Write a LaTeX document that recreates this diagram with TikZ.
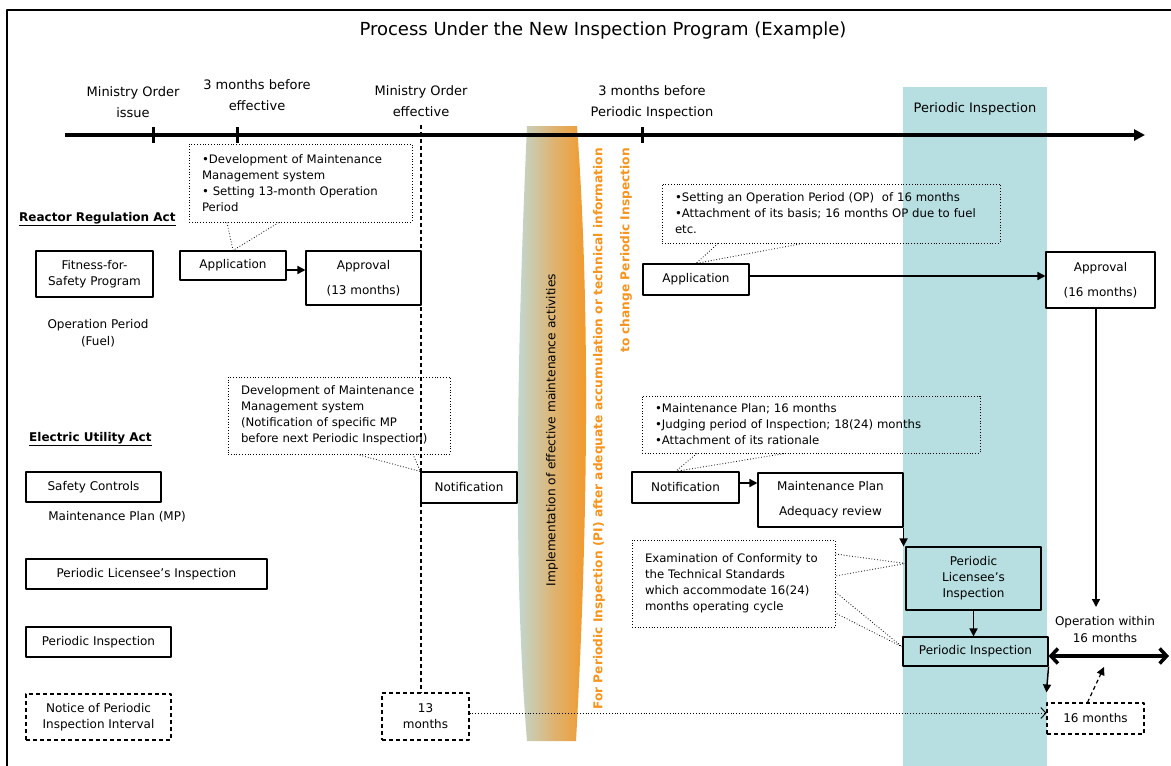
\documentclass[tikz,border=0pt]{standalone}
\usepackage{fontspec}
\setmainfont{DejaVu Sans}
\usetikzlibrary{arrows.meta}
\definecolor{picyan}{RGB}{183,223,226}
\definecolor{piorange}{RGB}{247,148,29}
\definecolor{bandgrey}{RGB}{188,221,224}
\begin{document}
\begin{tikzpicture}[x=1pt,y=-1pt,line join=round,
  box/.style={draw,line width=1.1pt,fill=white,align=center,inner sep=0pt,font=\fontsize{12}{16}\selectfont},
  dbox/.style={box,dash pattern=on 4pt off 3pt},
  pibox/.style={box,fill=picyan},
  callout/.style={draw,dotted,line width=0.8pt,align=left,inner xsep=13pt,inner ysep=0pt,font=\fontsize{11.7}{16}\selectfont},
  callptr/.style={dotted,line width=0.8pt},
  arr/.style={-{Triangle[length=8pt,width=8pt]},line width=1.5pt},
  lbl/.style={align=center,inner sep=0pt,font=\fontsize{13}{21}\selectfont},
  note/.style={align=center,inner sep=0pt,font=\fontsize{12}{17}\selectfont},
  act/.style={anchor=west,inner sep=0pt,font=\bfseries\fontsize{12}{14}\selectfont},
  bandtxt/.style={rotate=90,inner sep=0pt,font=\fontsize{12.2}{14}\selectfont}]

\useasboundingbox (0,0) rectangle (1171,766);

% frame and title
\draw[line width=1.3pt] (7,766) -- (7,10) -- (1171,10);
\node[font=\fontsize{18}{20}\selectfont] (title) at (603,31) {Process Under the New Inspection Program (Example)};

% periodic inspection period
\fill[picyan] (903,87) rectangle (1047,766);
\node[font=\fontsize{13}{15}\selectfont] (pilbl) at (975,109) {Periodic Inspection};

% maintenance band
\shade[left color=bandgrey,right color=piorange,middle color=piorange!55!bandgrey] (527,126) .. controls (518,330) and (512,560) .. (527,741)
  -- (576,741) .. controls (586,560) and (592,330) .. (577,126) -- cycle;
\node[bandtxt] (impl) at (552,430) {Implementation of effective maintenance activities};
\node[bandtxt,anchor=east,text=piorange,font=\bfseries\fontsize{12.2}{14}\selectfont] (forpi) at (599,148)
  {For Periodic Inspection (PI) after adequate accumulation or technical information};
\node[bandtxt,anchor=east,text=piorange,font=\bfseries\fontsize{12.2}{14}\selectfont] (tochg) at (626,148)
  {to change Periodic Inspection};

% time line
\coordinate (tl0) at (65,135);
\coordinate (tl1) at (1145,135);
\draw[line width=3.5pt,-{Triangle[length=11pt,width=11pt]}] (tl0) -- (tl1);
\foreach \x in {153,237,642}
  \draw[line width=3pt] (\x,127) -- (\x,143);
\node[lbl] (moissue) at (133,102) {Ministry Order\\issue};
\node[lbl] (mo3m) at (257,95) {3 months before\\effective};
\node[lbl] (moeffl) at (421,101) {Ministry Order\\effective};
\node[lbl] (pi3m) at (652,102) {3 months before\\Periodic Inspection};

% reactor regulation act
\node[act] (rra) at (19,219) {\underline{Reactor Regulation Act}};
\node[box,minimum width=117pt,minimum height=46pt] (ffs) at (94.5,274) {Fitness-for-\\Safety Program};
\node[note] (opfuel) at (98,333) {Operation Period\\(Fuel)};
\node[box,minimum width=106pt,minimum height=29pt] (app1) at (233,265.5) {Application};
\node[box,minimum width=115pt,minimum height=54pt] (appr1) at (363.5,278) {Approval\\[9pt](13 months)};
\node[callout,text width=197pt,minimum height=78pt] (callA) at (300.5,183)
  {\textbullet Development of Maintenance\\Management system\\\textbullet{} Setting 13-month Operation\\Period};
\draw[callptr] ([xshift=-73.5pt]callA.south) -- (app1.north) -- ([xshift=-21.5pt]callA.south);
\draw[arr] ([yshift=-4.5pt]app1.east) -- ([yshift=-4.5pt]app1.east -| appr1.west);

% electric utility act
\node[act] (eua) at (29,439) {\underline{Electric Utility Act}};
\node[box,minimum width=135pt,minimum height=30pt] (sc) at (93.5,487) {Safety Controls};
\node[note] (mpnote) at (117,517) {Maintenance Plan (MP)};
\node[box,minimum width=241pt,minimum height=30pt] (pliA) at (146.5,574) {Periodic Licensee’s Inspection};
\node[box,minimum width=145pt,minimum height=30pt] (piA) at (98.5,642) {Periodic Inspection};
\node[dbox,minimum width=145pt,minimum height=46pt] (notice) at (98.5,717) {Notice of Periodic\\Inspection Interval};

\node[box,minimum width=96pt,minimum height=31pt] (notifA) at (469,487.5) {Notification};
\node[dbox,minimum width=87pt,minimum height=47pt] (m13) at (425.5,716.5) {13\\months};
\node[callout,text width=196pt,minimum height=77pt] (callB) at (339,415.5)
  {Development of Maintenance\\Management system\\(Notification of specific MP\\before next Periodic Inspection)};
\draw[callptr] ([xshift=18pt]callB.south) -- (notifA.north west) -- ([xshift=74pt]callB.south);

% ministry order effective
\coordinate (moeff) at (421,125);
\draw[line width=1.1pt,dash pattern=on 4pt off 3pt] (moeff) -- (moeff |- m13.north);

% after the band
\node[box,minimum width=106pt,minimum height=31pt] (app2) at (696,279.5) {Application};
\node[box,minimum width=109pt,minimum height=56pt] (appr2) at (1100.5,280) {Approval\\[9pt](16 months)};
\node[callout,text width=312pt,minimum height=59pt] (callC) at (831,213.5)
  {\textbullet Setting an Operation Period (OP)~~of 16 months\\\textbullet Attachment of its basis; 16 months OP due to fuel\\etc.};
\draw[callptr] ([xshift=-113pt]callC.south) -- (app2.north) -- ([xshift=-28pt]callC.south);
\draw[arr] ([yshift=3.5pt]app2.east) -- ([yshift=3.5pt]app2.east -| appr2.west);

\node[box,minimum width=107pt,minimum height=31pt] (notifB) at (685.5,487.5) {Notification};
\node[box,minimum width=145pt,minimum height=54pt] (mpB) at (830.5,500) {Maintenance Plan\\[9pt]Adequacy review};
\node[callout,text width=312pt,minimum height=57pt] (callD) at (811,424.5)
  {\textbullet Maintenance Plan; 16 months\\\textbullet Judging period of Inspection; 18(24) months\\\textbullet Attachment of its rationale};
\draw[callptr] ([xshift=-114pt]callD.south) -- ([xshift=-10pt]notifB.north) -- ([xshift=-26pt]callD.south);
\draw[arr] ([yshift=4.5pt]notifB.east) -- ([yshift=4.5pt]notifB.east -| mpB.west);

\node[pibox,minimum width=135pt,minimum height=63pt] (pli) at (973.5,578.5) {Periodic\\Licensee’s\\Inspection};
\node[pibox,minimum width=145pt,minimum height=29pt] (pi2) at (975.5,651.5) {Periodic Inspection};
\node[dbox,minimum width=97pt,minimum height=31pt] (m16) at (1095.5,718.5) {16 months};
\node[callout,text width=177pt,minimum height=87pt] (callE) at (733.5,583.5)
  {Examination of Conformity to\\the Technical Standards\\which accommodate 16(24)\\months operating cycle};
\draw[callptr] ([yshift=29.5pt]callE.east) -- ([yshift=15pt]pli.west) -- ([yshift=7.5pt]callE.east);
\draw[callptr] ([yshift=-8.5pt]callE.east) -- ([yshift=4.5pt]pi2.west) -- ([yshift=-29.5pt]callE.east);

\draw[arr] (mpB.south east) -- (mpB.south east |- pli.north);
\draw[arr] (pli.south) -- (pli.south |- pi2.north);
\draw[arr] (pi2.south east) -- ([yshift=10pt]m16.north west);
\draw[dotted,line width=0.9pt,-{Straight Barb[length=5pt,width=11pt]}] ([yshift=3.5pt]m13.east) -- ([yshift=3.5pt]m13.east -| m16.west);

% operation period
\coordinate (opend) at (1096,607);
\coordinate (opright) at (1169,656);
\coordinate (opmid) at (1104,667);
\draw[arr] (appr2.south -| opend) -- (opend);
\node[note] (opnote) at (1105,630) {Operation within\\16 months};
\draw[line width=3.5pt,{Straight Barb[length=7pt,width=15pt]}-{Straight Barb[length=7pt,width=15pt]}] ([yshift=-4.5pt]pi2.east) -- (opright);
\draw[line width=1.2pt,dash pattern=on 4pt off 3pt,-{Triangle[length=8pt,width=8pt]}] ([xshift=-8pt]m16.north) -- (opmid);
\end{tikzpicture}
\end{document}
